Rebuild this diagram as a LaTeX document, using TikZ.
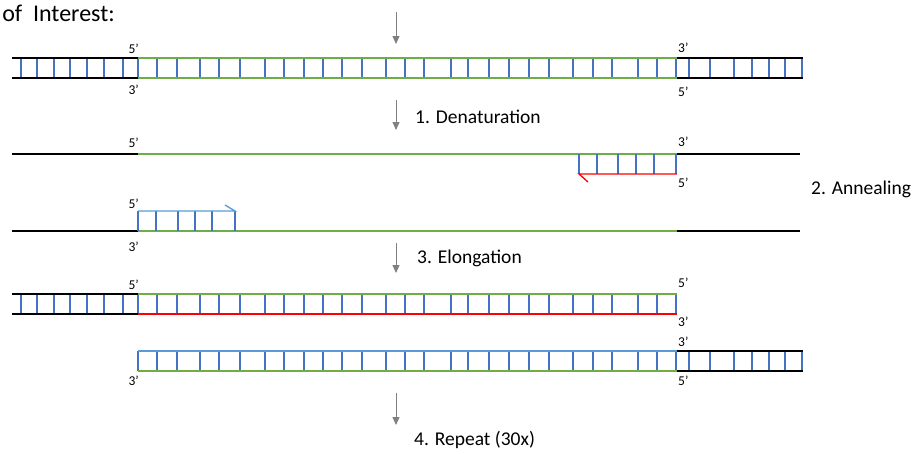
\documentclass[tikz,border=0pt]{standalone}
\usepackage{fontspec}
\setmainfont{Carlito}
\usetikzlibrary{arrows.meta}

\definecolor{strandgreen}{HTML}{70AD47}
\definecolor{rungblue}{HTML}{4472C4}
\definecolor{primerblue}{HTML}{5B9BD5}
\definecolor{flowgray}{HTML}{808080}

% x positions of the base pairs
\newcommand{\leftrungs}{21,37,54,70,87,104,123}
\newcommand{\corerungs}{138,157,177,200,219,240,265,284,304,323,342,362,386,405,424,451,468,489,509,529,549,573,593,612,638,657,676}
\newcommand{\rightrungs}{689,710,734,752,769,785,802}
\newcommand{\ladder}[3]{\foreach \x in #1 {\draw[rung] (\x,#2) -- (\x,#3);}}

\begin{document}
\begin{tikzpicture}[x=1pt,y=-1pt,
strand/.style={line width=1.3pt},
rung/.style={draw=rungblue,line width=1.2pt},
flow/.style={draw=flowgray,line width=1pt,-{Triangle[width=7pt,length=8pt]}},
steplabel/.style={font=\fontsize{19.5}{22}\selectfont,anchor=west,inner sep=0pt},
endlabel/.style={font=\fontsize{13.5}{15}\selectfont,inner sep=0pt}]

\useasboundingbox (0,0) rectangle (913,453);

\node[font=\fontsize{24}{28}\selectfont,anchor=east,inner sep=0pt] (title) at (115,13) {of\hspace{0.45em}Interest:};

% template before cycling
\ladder{\leftrungs}{58}{78}
\ladder{\corerungs}{58}{78}
\ladder{\rightrungs}{58}{78}
\foreach \y in {58,78} {
  \draw[strand] (12,\y) -- (138,\y);
  \draw[strand,strandgreen] (138,\y) -- (677,\y);
  \draw[strand] (677,\y) -- (803,\y);
}
\node[endlabel,anchor=east] (t5) at (139,49) {5’};
\node[endlabel,anchor=east] (t3) at (139,90) {3’};
\node[endlabel,anchor=west] (t3r) at (678,48) {3’};
\node[endlabel,anchor=west] (t5r) at (678,92) {5’};

% upper single strand with reverse primer
\draw[strand] (12,154) -- (138,154);
\draw[strand,strandgreen] (138,154) -- (677,154);
\draw[strand] (677,154) -- (800,154);
\ladder{{579,597,618,636,654,676}}{154}{174}
\draw[strand,red] (588,182) -- (579,174) -- (677,174);
\node[endlabel,anchor=east] (u5) at (139,143) {5’};
\node[endlabel,anchor=west] (u3r) at (678,142) {3’};
\node[endlabel,anchor=west] (p5) at (678,183) {5’};

% lower single strand with forward primer
\draw[strand] (12,231) -- (138,231);
\draw[strand,strandgreen] (138,231) -- (677,231);
\draw[strand] (677,231) -- (800,231);
\ladder{{138,156,178,195,212,235}}{211}{231}
\draw[strand,primerblue] (138,211) -- (235,211) -- (225,205);
\node[endlabel,anchor=east] (q5) at (139,204) {5’};
\node[endlabel,anchor=east] (l3) at (139,247) {3’};

% extended products
\ladder{\leftrungs}{294}{314}
\ladder{\corerungs}{294}{314}
\draw[strand] (12,294) -- (138,294);
\draw[strand] (12,314) -- (138,314);
\draw[strand,strandgreen] (138,294) -- (677,294);
\draw[strand,red] (138,314) -- (677,314);
\node[endlabel,anchor=east] (e5) at (139,285) {5’};
\node[endlabel,anchor=west] (e5r) at (678,283) {5’};
\node[endlabel,anchor=west] (e3r) at (678,322) {3’};

\ladder{\corerungs}{351}{371}
\ladder{\rightrungs}{351}{371}
\draw[strand,primerblue] (138,351) -- (677,351);
\draw[strand] (677,351) -- (803,351);
\draw[strand,strandgreen] (138,371) -- (677,371);
\draw[strand] (677,371) -- (803,371);
\node[endlabel,anchor=east] (f3) at (139,381) {3’};
\node[endlabel,anchor=west] (f3r) at (678,342) {3’};
\node[endlabel,anchor=west] (f5r) at (678,381) {5’};

% cycle steps
\coordinate (s0a) at (396,12);  \coordinate (s0b) at (396,44);
\coordinate (s1a) at (396,100); \coordinate (s1b) at (396,130);
\coordinate (s3a) at (396,243); \coordinate (s3b) at (396,273);
\coordinate (s4a) at (396,393); \coordinate (s4b) at (396,425);
\draw[flow] (s0a) -- (s0b);
\draw[flow] (s1a) -- (s1b);
\draw[flow] (s3a) -- (s3b);
\draw[flow] (s4a) -- (s4b);

\node[steplabel] (denat) at (415,117) {1. Denaturation};
\node[steplabel] (anneal) at (811,189) {2. Annealing};
\node[steplabel] (elong) at (417,258) {3. Elongation};
\node[steplabel] (repeat) at (414,440) {4. Repeat (30x)};
\end{tikzpicture}
\end{document}
